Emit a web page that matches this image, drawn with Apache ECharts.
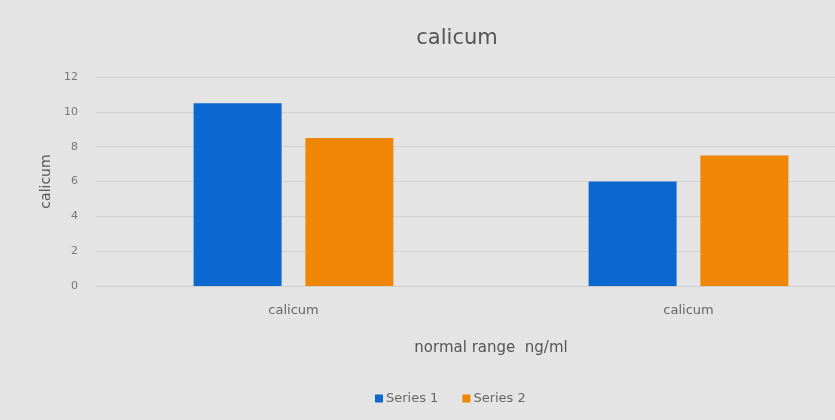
<!DOCTYPE html>
<html>
<head>
<meta charset="utf-8">
<style>
  html, body { margin: 0; padding: 0; background: #e4e4e4; overflow: hidden; }
  #chart { width: 890px; height: 420px; }
</style>
<script src="https://cdn.jsdelivr.net/npm/echarts@6/dist/echarts.min.js"></script>
</head>
<body>
<div id="chart"></div>
<script>
const categories = ['calicum', 'calicum'];
const series1 = [10.5, 6];
const series2 = [8.5, 7.5];
const yTicks = [0, 2, 4, 6, 8, 10, 12];

const font = '"DejaVu Sans", "Open Sans", sans-serif';
const chart = echarts.init(document.getElementById('chart'));
chart.setOption({
  backgroundColor: '#e4e4e4',
  animation: false,
  textStyle: { fontFamily: font },
  title: {
    text: 'calicum',
    left: 452, top: 23,
    textAlign: 'center',
    textStyle: { fontFamily: font, fontSize: 21, fontWeight: 'normal', color: '#555' }
  },
  legend: {
    left: 370, top: 387,
    itemWidth: 8, itemHeight: 8, itemGap: 24,
    icon: 'rect',
    textStyle: { fontFamily: font, fontSize: 13, color: '#666', padding: [0, 0, 0, -2] },
    data: ['Series 1', 'Series 2']
  },
  // the plot area continues past the visible right edge
  grid: { left: 96, right: 4, top: 77, height: 209, containLabel: false },
  xAxis: {
    type: 'category',
    data: categories,
    name: 'normal range  ng/ml',
    nameLocation: 'middle',
    nameGap: 55,
    nameTextStyle: { fontFamily: font, fontSize: 15, color: '#555' },
    axisLine: { show: true, lineStyle: { color: '#cfcfcf' } },
    axisTick: { show: false },
    axisLabel: { fontSize: 13, color: '#666', margin: 18 }
  },
  yAxis: {
    type: 'value',
    min: 0, max: 12, interval: 2,
    name: 'calicum',
    nameLocation: 'middle',
    nameGap: 41,
    nameTextStyle: { fontFamily: font, fontSize: 14, color: '#555' },
    axisLine: { show: false },
    axisTick: { show: false },
    axisLabel: { fontSize: 11, color: '#777', margin: 18,
      formatter: v => yTicks.includes(v) ? String(v) : '' },
    splitLine: { lineStyle: { color: '#d2d2d2', width: 1 } }
  },
  series: [
    { name: 'Series 1', type: 'bar', data: series1, barWidth: 88, barGap: '27%',
      itemStyle: { color: '#0a68d0' } },
    { name: 'Series 2', type: 'bar', data: series2, barWidth: 88,
      itemStyle: { color: '#ef8605' } }
  ]
});
</script>
</body>
</html>
